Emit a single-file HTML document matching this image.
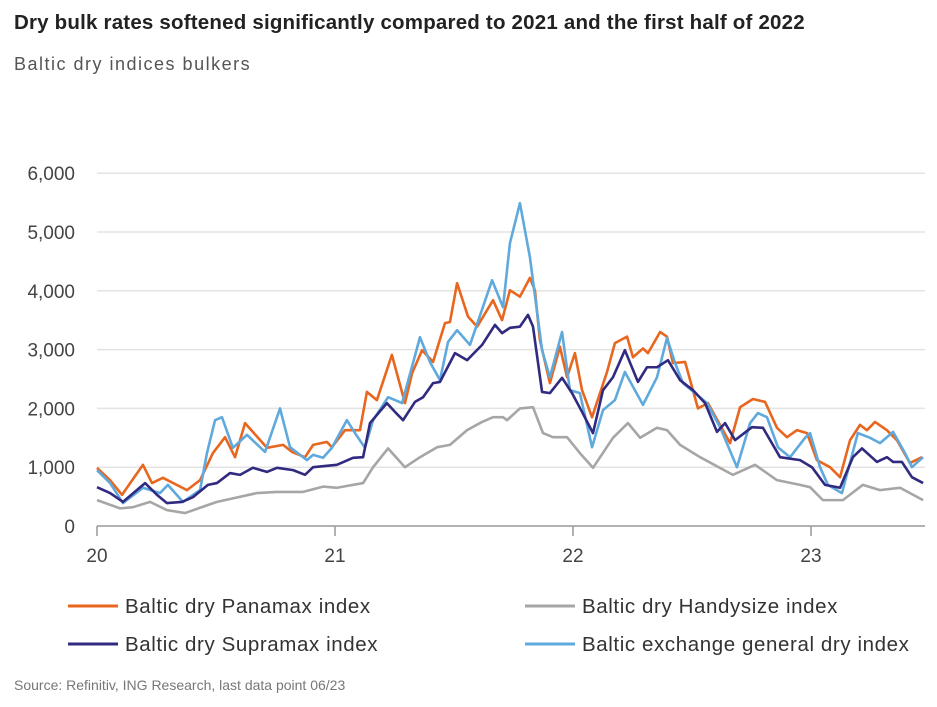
<!DOCTYPE html>
<html><head><meta charset="utf-8"><style>
body{margin:0;background:#fff;width:937px;height:707px;overflow:hidden;font-family:"Liberation Sans",sans-serif}
.t{position:absolute;left:14px;top:11px;font-size:20.5px;letter-spacing:0.2px;font-weight:bold;color:#222}
.s{position:absolute;left:14px;top:54px;font-size:18px;letter-spacing:1.5px;color:#555}
</style></head><body>
<div class="t">Dry bulk rates softened significantly compared to 2021 and the first half of 2022</div>
<div class="s">Baltic dry indices bulkers</div>
<svg id="c" width="937" height="707" style="position:absolute;left:0;top:0"></svg>
<script>
const yTicks=[0,1000,2000,3000,4000,5000,6000];
const yTickLabels=["0","1,000","2,000","3,000","4,000","5,000","6,000"];
const xTicks=[0,1,2,3];
const xTickLabels=["20","21","22","23"];
const panT=[0,.055,.105,.193,.231,.277,.378,.433,.487,.538,.580,.622,.714,.782,.819,.874,.908,.966,.987,1.042,1.105,1.134,1.176,1.239,1.294,1.324,1.366,1.412,1.462,1.483,1.513,1.559,1.597,1.664,1.702,1.735,1.777,1.819,1.840,1.861,1.903,1.945,1.975,2.008,2.038,2.080,2.143,2.176,2.227,2.252,2.294,2.315,2.366,2.395,2.420,2.471,2.525,2.567,2.660,2.702,2.756,2.807,2.857,2.899,2.941,2.983,3.025,3.080,3.122,3.164,3.206,3.235,3.269,3.319,3.361,3.416,3.466];
const panV=[990,780,530,1040,730,820,610,780,1240,1510,1170,1750,1330,1380,1260,1170,1380,1430,1340,1630,1630,2280,2140,2910,2090,2600,2990,2790,3450,3470,4130,3560,3390,3840,3500,4010,3900,4220,4010,3160,2430,3050,2530,2940,2310,1850,2620,3110,3220,2870,3020,2940,3300,3220,2770,2790,2000,2090,1410,2020,2160,2110,1670,1510,1630,1580,1120,1000,830,1460,1720,1630,1770,1630,1460,1070,1170];
const handyT=[0,.097,.151,.223,.294,.370,.433,.504,.571,.672,.756,.866,.950,1.008,1.118,1.160,1.223,1.294,1.357,1.429,1.483,1.555,1.618,1.664,1.706,1.723,1.777,1.832,1.874,1.916,1.975,2.029,2.084,2.168,2.231,2.282,2.353,2.395,2.450,2.534,2.672,2.765,2.857,2.954,2.996,3.050,3.134,3.218,3.290,3.374,3.471];
const handyV=[440,300,320,410,270,220,310,410,470,560,580,580,670,650,730,1000,1320,1000,1170,1340,1380,1630,1770,1850,1850,1800,2000,2020,1580,1510,1510,1240,990,1500,1750,1500,1670,1630,1380,1170,870,1040,780,700,660,440,440,700,610,650,440];
const supT=[0,.055,.109,.202,.252,.294,.357,.403,.466,.504,.559,.601,.655,.714,.756,.824,.874,.908,1.008,1.076,1.118,1.147,1.218,1.252,1.286,1.336,1.370,1.412,1.441,1.504,1.555,1.618,1.672,1.702,1.735,1.777,1.811,1.832,1.870,1.903,1.954,1.996,2.038,2.084,2.126,2.168,2.218,2.273,2.311,2.353,2.399,2.450,2.504,2.555,2.605,2.639,2.681,2.752,2.798,2.870,2.954,3.004,3.059,3.122,3.176,3.214,3.277,3.319,3.345,3.382,3.424,3.471];
const supV=[660,560,410,730,530,390,410,490,700,730,900,870,990,920,990,950,870,1000,1040,1160,1170,1750,2090,1940,1800,2110,2190,2430,2450,2940,2820,3080,3420,3280,3370,3390,3590,3390,2280,2260,2520,2260,1940,1580,2310,2530,2990,2450,2700,2700,2820,2480,2310,2090,1600,1750,1460,1680,1670,1170,1120,1000,700,650,1170,1320,1090,1170,1090,1090,830,730];
const bdiT=[0,.055,.109,.193,.265,.298,.361,.433,.462,.496,.525,.571,.630,.706,.769,.811,.882,.908,.950,.987,1.050,1.084,1.126,1.160,1.223,1.282,1.357,1.399,1.441,1.475,1.513,1.567,1.660,1.706,1.735,1.777,1.819,1.870,1.903,1.954,1.987,2.029,2.080,2.126,2.176,2.218,2.294,2.353,2.395,2.429,2.462,2.563,2.618,2.689,2.744,2.777,2.815,2.861,2.912,2.975,2.996,3.038,3.071,3.130,3.197,3.248,3.290,3.345,3.395,3.424,3.471];
const bdiV=[950,730,390,650,560,700,410,610,1240,1800,1850,1330,1550,1260,2000,1340,1120,1210,1160,1330,1800,1580,1330,1800,2190,2090,3210,2790,2480,3130,3330,3080,4180,3720,4810,5490,4570,2990,2530,3300,2310,2260,1340,1970,2140,2620,2060,2530,3200,2770,2430,2090,1680,1000,1750,1920,1850,1340,1170,1500,1580,1000,700,560,1580,1500,1410,1600,1240,1000,1170];
const X0=97,XW=238,Y0=526,YK=0.0588;
const sx=t=>X0+t*XW, sy=v=>Y0-v*YK;
const svg=document.getElementById('c');const NS='http://www.w3.org/2000/svg';
function mk(tag,attrs){const e=document.createElementNS(NS,tag);for(const k in attrs)e.setAttribute(k,attrs[k]);svg.appendChild(e);return e;}
yTicks.forEach((v,i)=>{
 if(v>0){const g=mk('line',{x1:X0,x2:925,y1:sy(v),y2:sy(v),stroke:'#e3e3e3','stroke-width':1.5});
 
 }
 const t=mk('text',{x:75,y:sy(v)+7,'text-anchor':'end','font-size':19,fill:'#444'});t.textContent=yTickLabels[i];
 
 
});
const ax=mk('line',{x1:X0,x2:925,y1:Y0,y2:Y0,stroke:'#999','stroke-width':1.5});


xTicks.forEach((v,i)=>{
 const tk=mk('line',{x1:sx(v),x2:sx(v),y1:Y0,y2:Y0+10,stroke:'#999','stroke-width':1.5});
 
 
 const t=mk('text',{x:sx(v),y:562,'text-anchor':'middle','font-size':19,fill:'#444'});t.textContent=xTickLabels[i];
 
 
});
function line(T,V,col,name){const p=mk('polyline',{points:T.map((t,i)=>sx(t)+','+sy(V[i])).join(' '),fill:'none',stroke:col,'stroke-width':2.6,'stroke-linejoin':'round'});
 
 }
line(handyT,handyV,'#a6a6a6','handysize-line');
line(panT,panV,'#e8661e','panamax-line');
line(bdiT,bdiV,'#5fa9dd','bdi-line');
line(supT,supV,'#302a80','supramax-line');
const leg=[[68,606,'#e8661e','Baltic dry Panamax index','legend-panamax'],[525,606,'#a6a6a6','Baltic dry Handysize index','legend-handysize'],[68,644,'#302a80','Baltic dry Supramax index','legend-supramax'],[525,644,'#5fa9dd','Baltic exchange general dry index','legend-bdi']];
leg.forEach(l=>{
 const s=mk('line',{x1:l[0],x2:l[0]+50,y1:l[1],y2:l[1],stroke:l[2],'stroke-width':3});
 
 
 const t=mk('text',{x:l[0]+57,y:l[1]+7,'font-size':20.5,'letter-spacing':0.6,fill:'#333'});t.textContent=l[3];
 
 
});
const src=mk('text',{x:14,y:690,'font-size':14,fill:'#777'});src.textContent='Source: Refinitiv, ING Research, last data point 06/23';


</script>
</body></html>
